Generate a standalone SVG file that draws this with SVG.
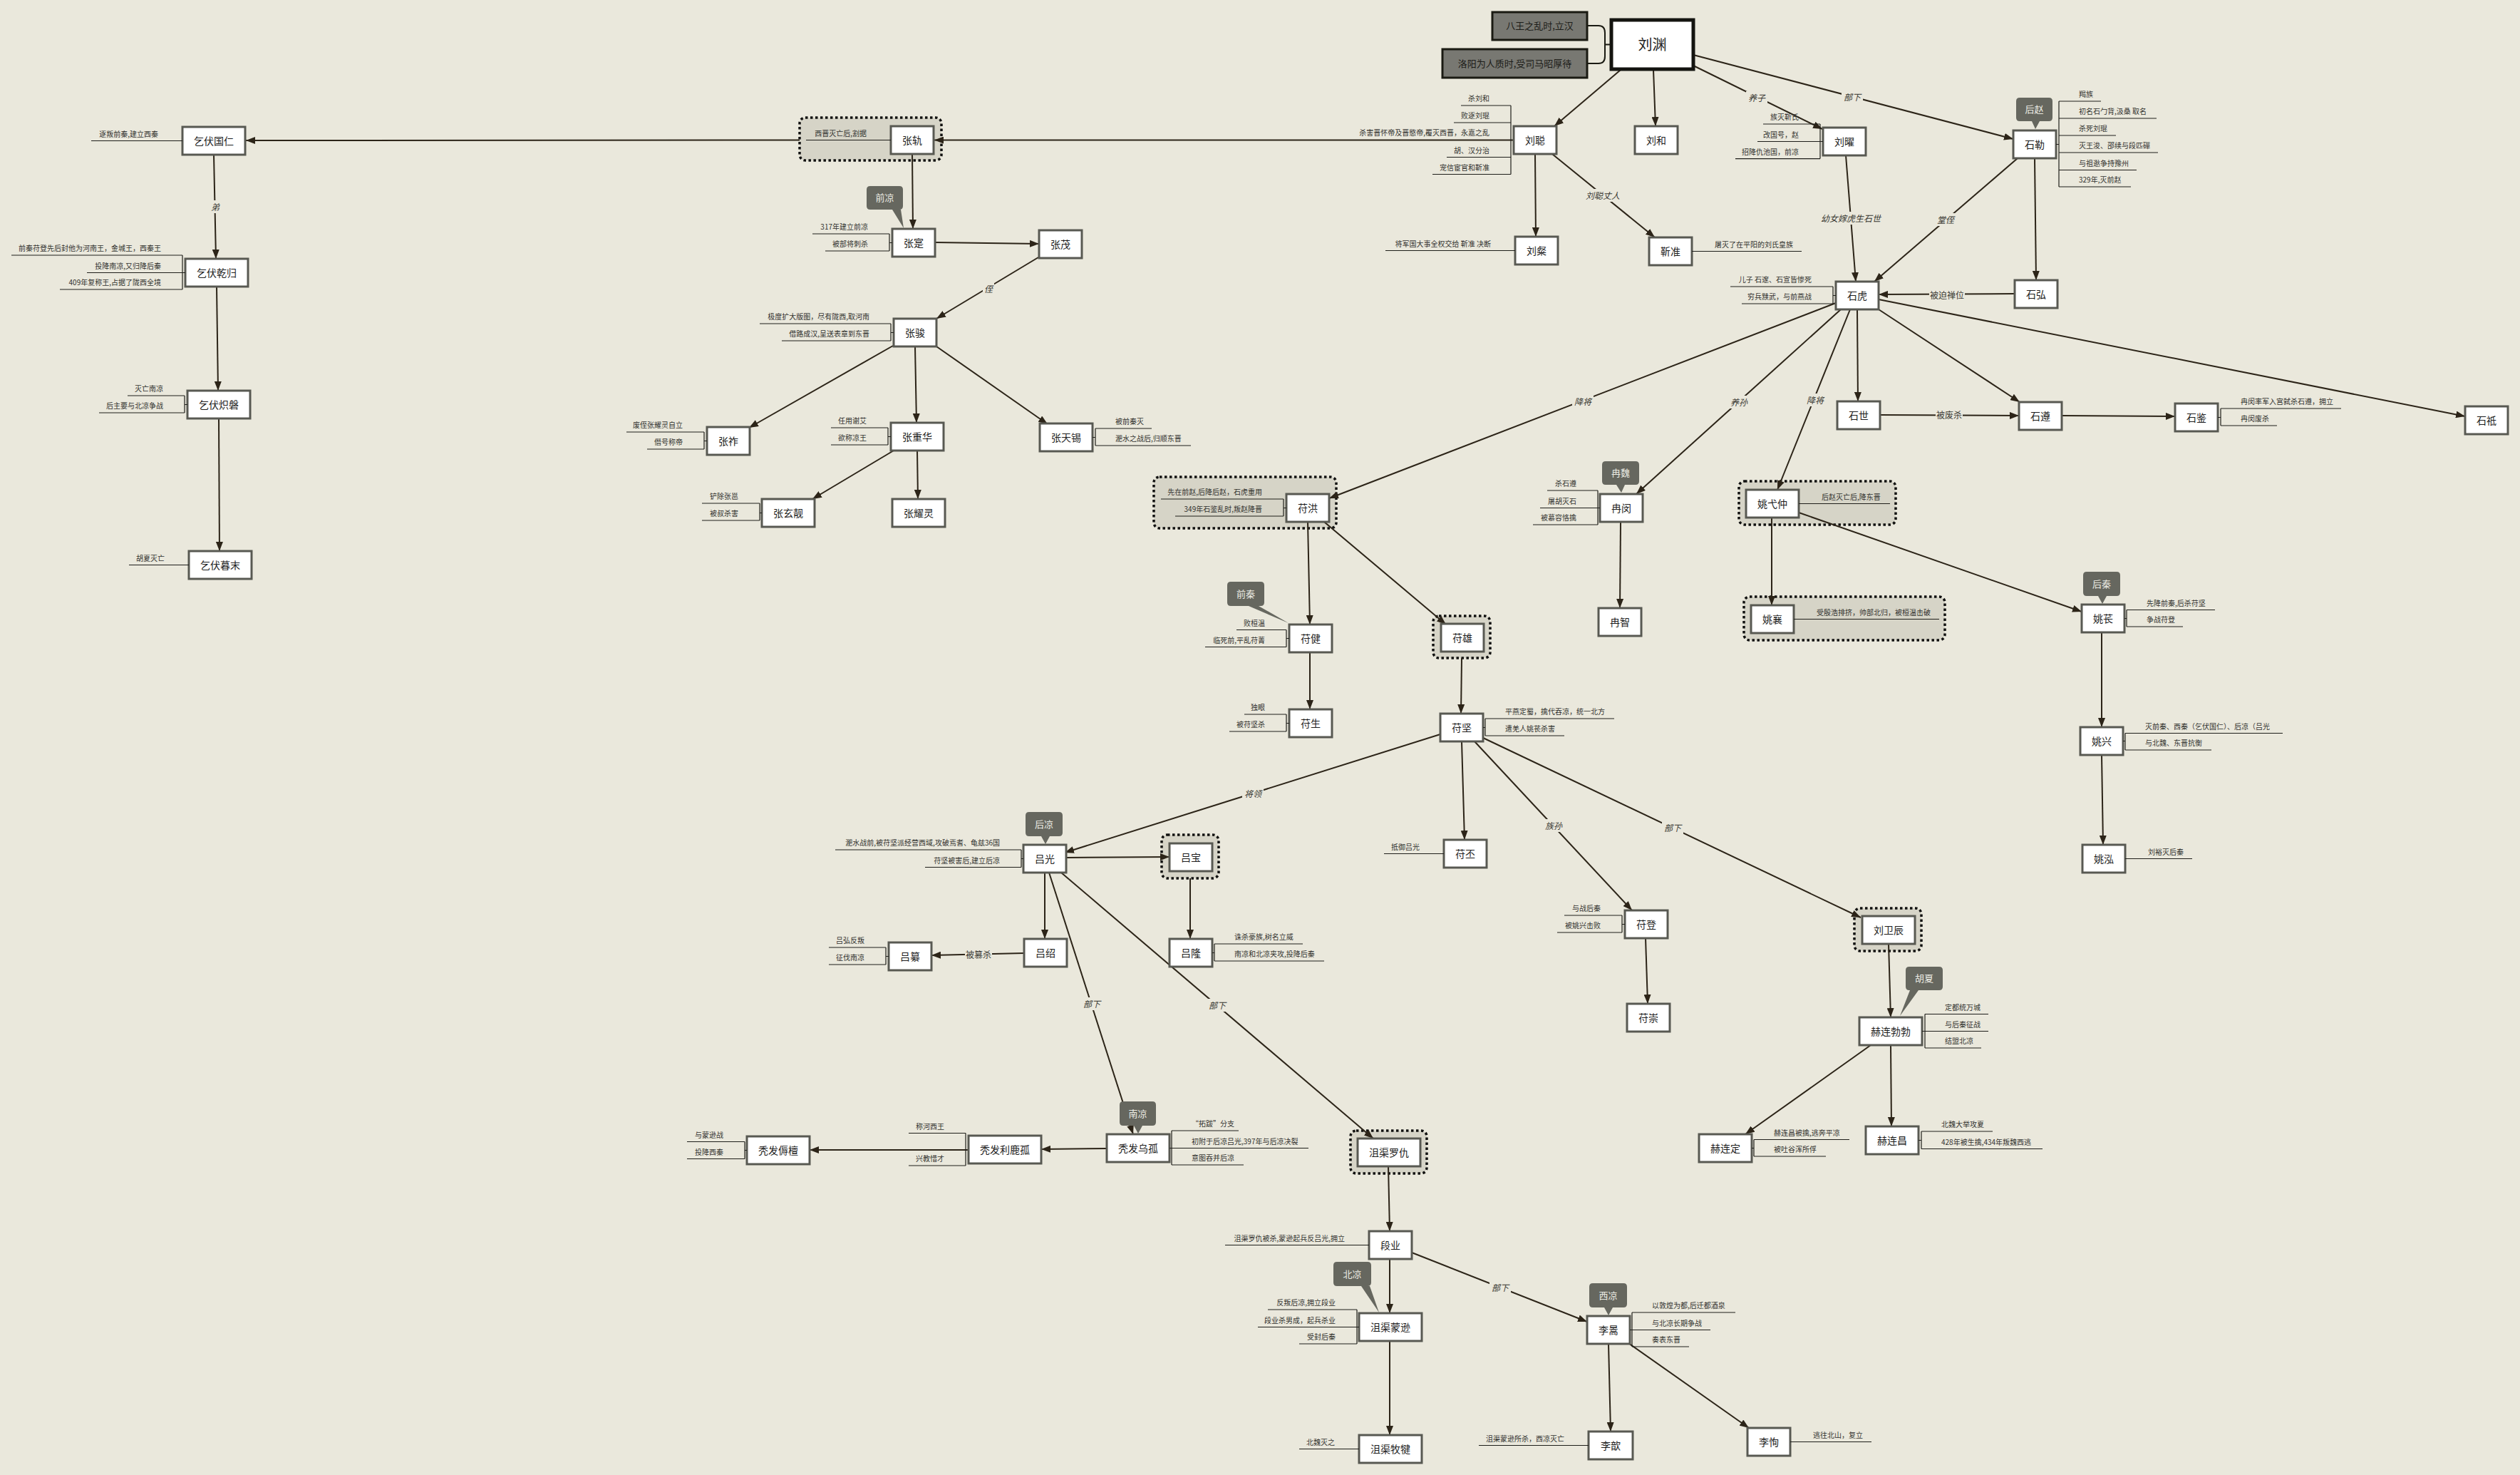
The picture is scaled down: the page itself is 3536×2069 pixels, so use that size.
<svg xmlns="http://www.w3.org/2000/svg" width="3536" height="2069" viewBox="0 0 3536 2069">
<defs>
<style>
.nd{fill:#ffffff;stroke:#585952;stroke-width:3}
.nt{font-family:"Noto Sans CJK SC","Noto Sans",sans-serif;font-size:14px;fill:#1e1e1e;text-anchor:middle}
.no{font-family:"Noto Sans CJK SC","Noto Sans",sans-serif;font-size:10px;fill:#333330}
.ne{text-anchor:end}
.nl{stroke:#1e1e1a;stroke-width:1.2;fill:none}
.ed{stroke:#2c2418;stroke-width:2;fill:none;marker-end:url(#ah)}
.lb{font-family:"Noto Sans CJK SC","Noto Sans",sans-serif;font-size:12px;fill:#3a3a34;text-anchor:middle;font-style:italic}
.lu{font-style:normal}
.lbg{fill:#eae8dc}
.grp{fill:#d6d4c7;stroke:#111110;stroke-width:3.5;stroke-dasharray:3.5 3.5}
.co{fill:#66675f}
.cot{font-family:"Noto Sans CJK SC","Noto Sans",sans-serif;font-size:13px;fill:#ececE4;text-anchor:middle}
.dk{fill:#787872;stroke:#1a1a12;stroke-width:3}
.dkt{font-family:"Noto Sans CJK SC","Noto Sans",sans-serif;font-size:13px;fill:#1c1c18;text-anchor:middle}
</style>
<marker id="ah" markerUnits="userSpaceOnUse" markerWidth="14" markerHeight="10" refX="13" refY="5" orient="auto"><path d="M0,0 L13,5 L0,10 z" fill="#2c2418"/></marker>
</defs>
<rect x="0" y="0" width="3536" height="2069" fill="#eae8dc"/>

<!-- groups (dotted frames) -->
<g id="frames">
<rect class="grp" x="1122" y="165" width="199" height="60" rx="8"/>
<rect class="grp" x="1619" y="669" width="256" height="72" rx="8"/>
<rect class="grp" x="2011" y="864" width="80" height="59" rx="8"/>
<rect class="grp" x="1630" y="1171" width="80" height="61" rx="8"/>
<rect class="grp" x="1895" y="1586" width="107" height="60" rx="8"/>
<rect class="grp" x="2602" y="1274" width="94" height="60" rx="8"/>
<rect class="grp" x="2440" y="675" width="220" height="61" rx="8"/>
<rect class="grp" x="2447" y="837" width="282" height="61" rx="8"/>
</g>

<!-- connectors -->
<g id="connectors">
<path class="ed" d="M2274,98 L2181,177"/>
<path class="ed" d="M2320,98 L2323,177"/>
<path class="ed" d="M2376,92 L2557,181"/>
<path class="ed" d="M2376,77 L2825,195"/>
<path class="ed" d="M2154,216 L2155,332"/>
<path class="ed" d="M2178,216 L2322,333"/>
<path class="ed" d="M2124,196.5 L1311,196.5"/>
<path class="ed" d="M1122,196.5 L345,197"/>
<path class="ed" d="M1280,216 L1281,321"/>
<path class="ed" d="M1312,340 L1458,342"/>
<path class="ed" d="M1457,361 L1314,447"/>
<path class="ed" d="M1253,485 L1051,600"/>
<path class="ed" d="M1284,486 L1286,593"/>
<path class="ed" d="M1314,486 L1470,595"/>
<path class="ed" d="M1254,632 L1140,700"/>
<path class="ed" d="M1287,632 L1288,700"/>
<path class="ed" d="M300,217 L303,363"/>
<path class="ed" d="M304,402 L306,548"/>
<path class="ed" d="M307,587 L308,773"/>
<path class="ed" d="M2590,218 L2604,395"/>
<path class="ed" d="M2831,222 L2630,395"/>
<path class="ed" d="M2855,222 L2857,393"/>
<path class="ed" d="M2827,412 L2636,413"/>
<path class="ed" d="M2606,434 L2607,563"/>
<path class="ed" d="M2638,582 L2833,583"/>
<path class="ed" d="M2636,434 L2834,564"/>
<path class="ed" d="M2893,583 L3052,584"/>
<path class="ed" d="M2636,420 L3459,584"/>
<path class="ed" d="M2576,425 L1865,699"/>
<path class="ed" d="M2583,434 L2296,693"/>
<path class="ed" d="M2596,434 L2494,687"/>
<path class="ed" d="M1835,732 L1838,876"/>
<path class="ed" d="M1858,732 L2029,876"/>
<path class="ed" d="M2274,732 L2273,853"/>
<path class="ed" d="M1838,915 L1838,995"/>
<path class="ed" d="M2051,923 L2050,1001"/>
<path class="ed" d="M2021,1030 L1494,1196"/>
<path class="ed" d="M2051,1040 L2055,1178"/>
<path class="ed" d="M2069,1040 L2290,1277"/>
<path class="ed" d="M2081,1035 L2611,1287"/>
<path class="ed" d="M2309,1316 L2312,1408"/>
<path class="ed" d="M2650,1324 L2653,1427"/>
<path class="ed" d="M2625,1466 L2449,1591"/>
<path class="ed" d="M2653,1466 L2654,1580"/>
<path class="ed" d="M2486,726 L2486,849"/>
<path class="ed" d="M2524,719 L2921,858"/>
<path class="ed" d="M2949,887 L2949,1020"/>
<path class="ed" d="M2949,1059 L2951,1185"/>
<path class="ed" d="M1496,1203 L1641,1202"/>
<path class="ed" d="M1670,1232 L1670,1317"/>
<path class="ed" d="M1466,1224 L1466,1317"/>
<path class="ed" d="M1437,1337 L1307,1340"/>
<path class="ed" d="M1472,1224 L1590,1591"/>
<path class="ed" d="M1489,1224 L1927,1597"/>
<path class="ed" d="M1553,1611 L1461,1612"/>
<path class="ed" d="M1359,1613 L1136,1613"/>
<path class="ed" d="M1948,1636 L1950,1727"/>
<path class="ed" d="M1950,1766 L1950,1842"/>
<path class="ed" d="M1981,1757 L2227,1854"/>
<path class="ed" d="M1950,1881 L1950,2013"/>
<path class="ed" d="M2257,1885 L2260,2008"/>
<path class="ed" d="M2285,1884 L2454,2003"/>
<!-- labels -->
<rect class="lbg" x="2450" y="128" width="30" height="18"/><text class="lb" x="2465" y="141.5">养子</text>
<rect class="lbg" x="2584" y="127" width="30" height="18"/><text class="lb" x="2599" y="140.5">部下</text>
<rect class="lbg" x="2224" y="265" width="50" height="18"/><text class="lb" x="2249" y="278.5">刘聪丈人</text>
<rect class="lbg" x="294" y="281" width="16" height="18"/><text class="lb" x="302" y="294.5">弟</text>
<rect class="lbg" x="1379" y="396" width="16" height="18"/><text class="lb" x="1387" y="409.5">侄</text>
<rect class="lbg" x="2554" y="297" width="86" height="18"/><text class="lb" x="2597" y="310.5">幼女嫁虎生石世</text>
<rect class="lbg" x="2715" y="299" width="30" height="18"/><text class="lb" x="2730" y="312.5">堂侄</text>
<rect class="lbg" x="2707" y="405" width="50" height="18"/><text class="lb lu" x="2732" y="418.5">被迫禅位</text>
<rect class="lbg" x="2716" y="573" width="38" height="18"/><text class="lb lu" x="2735" y="586.5">被废杀</text>
<rect class="lbg" x="2206" y="554" width="30" height="18"/><text class="lb" x="2221" y="567.5">降将</text>
<rect class="lbg" x="2425" y="555" width="30" height="18"/><text class="lb" x="2440" y="568.5">养孙</text>
<rect class="lbg" x="2532" y="552" width="30" height="18"/><text class="lb" x="2547" y="565.5">降将</text>
<rect class="lbg" x="1743" y="1104" width="30" height="18"/><text class="lb" x="1758" y="1117.5">将领</text>
<rect class="lbg" x="2165" y="1149" width="30" height="18"/><text class="lb" x="2180" y="1162.5">族孙</text>
<rect class="lbg" x="2332" y="1152" width="30" height="18"/><text class="lb" x="2347" y="1165.5">部下</text>
<rect class="lbg" x="1354" y="1330" width="38" height="18"/><text class="lb lu" x="1373" y="1343.5">被篡杀</text>
<rect class="lbg" x="1517" y="1399" width="30" height="18"/><text class="lb" x="1532" y="1412.5">部下</text>
<rect class="lbg" x="1693" y="1401" width="30" height="18"/><text class="lb" x="1708" y="1414.5">部下</text>
<rect class="lbg" x="2090" y="1797" width="30" height="18"/><text class="lb" x="2105" y="1810.5">部下</text>
</g>

<!-- 刘渊 -->
<g id="liuyuan">
<rect x="2261" y="28" width="115" height="69" fill="#ffffff" stroke="#141410" stroke-width="5"/>
<text class="nt" x="2318.5" y="70" style="font-size:20px">刘渊</text>
<rect class="dk" x="2094" y="17" width="133" height="39"/>
<text class="dkt" x="2160.5" y="41">八王之乱时,立汉</text>
<rect class="dk" x="2024" y="69" width="203" height="40"/>
<text class="dkt" x="2125.5" y="94">洛阳为人质时,受司马昭厚待</text>
<path d="M2228,36 H2243 Q2252,36 2252,46 V79 Q2252,89 2243,89 H2228 M2252,62.5 H2260" fill="none" stroke="#1a1a12" stroke-width="2"/>
</g>

<g id="liucong">
<rect class="nd" x="2124" y="177" width="60" height="39"/><text class="nt" x="2154" y="201.5">刘聪</text>
<path class="nl" d="M2050,148 H2120 M2040,172 H2120 M2030,220.5 H2120 M2010,244.5 H2120 M2120,148 V244.5"/>
<text class="no ne" x="2090" y="142">杀刘和</text>
<text class="no ne" x="2090" y="166">败逐刘琨</text>
<text class="no ne" x="2090" y="190">杀害晋怀帝及晋愍帝,覆灭西晋，永嘉之乱</text>
<text class="no ne" x="2090" y="214.5">胡、汉分治</text>
<text class="no ne" x="2090" y="238.5">宠信宦官和靳准</text>
</g>
<g id="liuhe"><rect class="nd" x="2294" y="177" width="60" height="39"/><text class="nt" x="2324" y="201.5">刘和</text></g>
<g id="liuyao">
<rect class="nd" x="2558" y="179" width="60" height="39"/><text class="nt" x="2588" y="203.5">刘曜</text>
<path class="nl" d="M2474,174 H2554 M2466,198.5 H2558 M2435,222.6 H2554 M2554,174 V222.6"/>
<text class="no ne" x="2524" y="168">族灭靳氏</text>
<text class="no ne" x="2524" y="192.5">改国号，赵</text>
<text class="no ne" x="2524" y="216.6">招降仇池国，前凉</text>
</g>
<g id="shile">
<rect class="nd" x="2825" y="183" width="60" height="39"/><text class="nt" x="2855" y="207.5">石勒</text>
<path class="nl" d="M2889,142 H2948 M2889,166 H3026 M2889,190 H2969 M2889,214 H3028 M2889,238.5 H2998 M2889,262 H2990 M2889,142 V262 M2885,202.5 H2889"/>
<text class="no" x="2917" y="136">羯族</text>
<text class="no" x="2917" y="160">初名石勹背,汲桑 取名</text>
<text class="no" x="2917" y="184">杀死刘琨</text>
<text class="no" x="2917" y="208">灭王浚、邵续与段匹磾</text>
<text class="no" x="2917" y="232.5">与祖逖争持豫州</text>
<text class="no" x="2917" y="256">329年,灭前赵</text>
<path class="co" d="M2834,137 H2875 Q2880,137 2880,142 V165 Q2880,170 2875,170 H2862 L2856,181 L2851,170 H2834 Q2829,170 2829,165 V142 Q2829,137 2834,137 Z"/>
<text class="cot" x="2854.5" y="158">后赵</text>
</g>
<g id="liucan">
<rect class="nd" x="2126" y="332" width="60" height="39"/><text class="nt" x="2156" y="356.5">刘粲</text>
<path class="nl" d="M1944,351.5 H2126"/>
<text class="no ne" x="2092" y="345.5">将军国大事全权交给 靳准 决断</text>
</g>
<g id="jinzhun">
<rect class="nd" x="2314" y="333" width="60" height="39"/><text class="nt" x="2344" y="357.5">靳准</text>
<path class="nl" d="M2374,352.5 H2528"/>
<text class="no" x="2406" y="346.5">屠灭了在平阳的刘氏皇族</text>
</g>
<g id="shihu">
<rect class="nd" x="2576" y="395" width="60" height="39"/><text class="nt" x="2606" y="419.5">石虎</text>
<path class="nl" d="M2428,402 H2572 M2444,426 H2572 M2572,402 V426 M2572,414.5 H2576"/>
<text class="no ne" x="2542" y="396">儿子 石邃、石宣皆惨死</text>
<text class="no ne" x="2542" y="420">穷兵黩武，与前燕战</text>
</g>
<g id="shihong"><rect class="nd" x="2827" y="393" width="60" height="39"/><text class="nt" x="2857" y="417.5">石弘</text></g>
<g id="shishi"><rect class="nd" x="2578" y="563" width="60" height="39"/><text class="nt" x="2608" y="587.5">石世</text></g>
<g id="shizun"><rect class="nd" x="2833" y="564" width="60" height="39"/><text class="nt" x="2863" y="588.5">石遵</text></g>
<g id="shijian">
<rect class="nd" x="3052" y="566" width="60" height="39"/><text class="nt" x="3082" y="590.5">石鉴</text>
<path class="nl" d="M3116,573 H3285 M3116,597 H3195 M3116,573 V597 M3112,585.5 H3116"/>
<text class="no" x="3144" y="567">冉闵率军入宫弑杀石遵，拥立</text>
<text class="no" x="3144" y="591">冉闵废杀</text>
</g>
<g id="shizhi"><rect class="nd" x="3459" y="570" width="60" height="39"/><text class="nt" x="3489" y="594.5">石祗</text></g>

<g id="zhanggui">
<rect class="nd" x="1250" y="177" width="60" height="39"/><text class="nt" x="1280" y="201.5">张轨</text>
<path class="nl" d="M1131,196.5 H1250"/>
<text class="no ne" x="1216" y="190.5">西晋灭亡后,割据</text>
</g>
<g id="zhangshi">
<rect class="nd" x="1252" y="321" width="60" height="39"/><text class="nt" x="1282" y="345.5">张寔</text>
<path class="nl" d="M1140,328 H1248 M1158,352 H1248 M1248,328 V352 M1248,340.5 H1252"/>
<text class="no ne" x="1218" y="322">317年建立前凉</text>
<text class="no ne" x="1218" y="346">被部将刺杀</text>
<path class="co" d="M1221,261 H1262 Q1267,261 1267,266 V289 Q1267,294 1262,294 H1264 L1268,320 L1252,294 H1221 Q1216,294 1216,289 V266 Q1216,261 1221,261 Z"/>
<text class="cot" x="1241.5" y="282">前凉</text>
</g>
<g id="zhangmao"><rect class="nd" x="1458" y="323" width="60" height="39"/><text class="nt" x="1488" y="347.5">张茂</text></g>
<g id="zhangjun">
<rect class="nd" x="1254" y="447" width="60" height="39"/><text class="nt" x="1284" y="471.5">张骏</text>
<path class="nl" d="M1066,454 H1250 M1097,478 H1250 M1250,454 V478 M1250,466.5 H1254"/>
<text class="no ne" x="1220" y="448">极度扩大版图，尽有陇西,取河南</text>
<text class="no ne" x="1220" y="472">借路成汉,呈送表章到东晋</text>
</g>
<g id="zhangzuo">
<rect class="nd" x="992" y="599" width="60" height="39"/><text class="nt" x="1022" y="623.5">张祚</text>
<path class="nl" d="M879,606 H988 M908,630 H988 M988,606 V630 M988,618.5 H992"/>
<text class="no ne" x="958" y="600">废侄张耀灵自立</text>
<text class="no ne" x="958" y="624">僭号称帝</text>
</g>
<g id="zhangchonghua">
<rect class="nd" x="1250" y="593" width="74" height="39"/><text class="nt" x="1287" y="617.5">张重华</text>
<path class="nl" d="M1166,600 H1246 M1166,624 H1246 M1246,600 V624 M1246,612.5 H1250"/>
<text class="no ne" x="1216" y="594">任用谢艾</text>
<text class="no ne" x="1216" y="618">欲称凉王</text>
</g>
<g id="zhangtianxi">
<rect class="nd" x="1459" y="594" width="74" height="39"/><text class="nt" x="1496" y="618.5">张天锡</text>
<path class="nl" d="M1537,601 H1616 M1537,625 H1671 M1537,601 V625 M1533,613.5 H1537"/>
<text class="no" x="1565" y="595">被前秦灭</text>
<text class="no" x="1565" y="619">淝水之战后,归顺东晋</text>
</g>
<g id="zhangxuanjing">
<rect class="nd" x="1069" y="700" width="74" height="39"/><text class="nt" x="1106" y="724.5">张玄靓</text>
<path class="nl" d="M985,706 H1066 M985,730 H1066 M1066,706 V730 M1066,719.5 H1069"/>
<text class="no ne" x="1036" y="700">铲除张邕</text>
<text class="no ne" x="1036" y="724">被叔杀害</text>
</g>
<g id="zhangyaoling"><rect class="nd" x="1252" y="700" width="74" height="39"/><text class="nt" x="1289" y="724.5">张耀灵</text></g>

<g id="qifuguoren">
<rect class="nd" x="256" y="178" width="88" height="39"/><text class="nt" x="300" y="202.5">乞伏国仁</text>
<path class="nl" d="M128,197.5 H256"/>
<text class="no ne" x="222" y="191.5">逐叛前秦,建立西秦</text>
</g>
<g id="qifuqiangui">
<rect class="nd" x="260" y="363" width="88" height="39"/><text class="nt" x="304" y="387.5">乞伏乾归</text>
<path class="nl" d="M16,358 H256 M122,382.5 H260 M84,406 H256 M256,358 V406"/>
<text class="no ne" x="226" y="352">前秦苻登先后封他为河南王，金城王，西秦王</text>
<text class="no ne" x="226" y="376.5">投降南凉,又归降后秦</text>
<text class="no ne" x="226" y="400">409年复称王,占据了陇西全境</text>
</g>
<g id="qifuchipan">
<rect class="nd" x="263" y="548" width="88" height="39"/><text class="nt" x="307" y="572.5">乞伏炽磐</text>
<path class="nl" d="M179,555 H259 M139,579 H259 M259,555 V579 M259,567.5 H263"/>
<text class="no ne" x="229" y="549">灭亡南凉</text>
<text class="no ne" x="229" y="573">后主要与北凉争战</text>
</g>
<g id="qifumumo">
<rect class="nd" x="265" y="773" width="88" height="39"/><text class="nt" x="309" y="797.5">乞伏暮末</text>
<path class="nl" d="M181,792.5 H265"/>
<text class="no ne" x="231" y="786.5">胡夏灭亡</text>
</g>

<g id="fuhong">
<rect class="nd" x="1805" y="693" width="60" height="39"/><text class="nt" x="1835" y="717.5">苻洪</text>
<path class="nl" d="M1629,700 H1801 M1649,724 H1801 M1801,700 V724 M1801,712.5 H1805"/>
<text class="no ne" x="1771" y="694">先在前赵,后降后赵，石虎重用</text>
<text class="no ne" x="1771" y="718">349年石鉴乱时,叛赵降晋</text>
</g>
<g id="ranmin">
<rect class="nd" x="2245" y="693" width="60" height="39"/><text class="nt" x="2275" y="717.5">冉闵</text>
<path class="nl" d="M2171,688 H2242 M2161,712.5 H2245 M2151,736 H2242 M2242,688 V736"/>
<text class="no ne" x="2212" y="682">杀石遵</text>
<text class="no ne" x="2212" y="706.5">屠胡灭石</text>
<text class="no ne" x="2212" y="730">被慕容恪擒</text>
<path class="co" d="M2253,647 H2295 Q2300,647 2300,652 V675 Q2300,680 2295,680 H2280 L2275,691 L2268,680 H2253 Q2248,680 2248,675 V652 Q2248,647 2253,647 Z"/>
<text class="cot" x="2274" y="668">冉魏</text>
</g>
<g id="ranzhi"><rect class="nd" x="2243" y="853" width="60" height="39"/><text class="nt" x="2273" y="877.5">冉智</text></g>
<g id="fujian">
<rect class="nd" x="1809" y="876" width="60" height="39"/><text class="nt" x="1839" y="900.5">苻健</text>
<path class="nl" d="M1735,883.5 H1805 M1691,907.5 H1805 M1805,883.5 V907.5 M1805,895.5 H1809"/>
<text class="no ne" x="1775" y="877.5">败桓温</text>
<text class="no ne" x="1775" y="901.5">临死前,平乱苻菁</text>
<path class="co" d="M1727,816 H1769 Q1774,816 1774,821 V845 Q1774,850 1769,850 H1766 L1808,874 L1752,850 H1727 Q1722,850 1722,845 V821 Q1722,816 1727,816 Z"/>
<text class="cot" x="1748" y="837.5">前秦</text>
</g>
<g id="fuxiong"><rect class="nd" x="2022" y="875" width="60" height="39"/><text class="nt" x="2052" y="899.5">苻雄</text></g>
<g id="fusheng">
<rect class="nd" x="1809" y="995" width="60" height="39"/><text class="nt" x="1839" y="1019.5">苻生</text>
<path class="nl" d="M1746,1002 H1805 M1725,1026 H1805 M1805,1002 V1026 M1805,1014.5 H1809"/>
<text class="no ne" x="1775" y="996">独眼</text>
<text class="no ne" x="1775" y="1020">被苻坚杀</text>
</g>
<g id="fujian2">
<rect class="nd" x="2021" y="1001" width="60" height="39"/><text class="nt" x="2051" y="1025.5">苻坚</text>
<path class="nl" d="M2084,1008 H2265 M2084,1032 H2195 M2084,1008 V1032 M2081,1020.5 H2084"/>
<text class="no" x="2112" y="1002">平燕定蜀，擒代吞凉，统一北方</text>
<text class="no" x="2112" y="1026">遭羌人姚苌杀害</text>
</g>
<g id="fupi">
<rect class="nd" x="2026" y="1178" width="60" height="39"/><text class="nt" x="2056" y="1202.5">苻丕</text>
<path class="nl" d="M1942,1197.5 H2026"/>
<text class="no ne" x="1992" y="1191.5">抵御吕光</text>
</g>
<g id="fudeng">
<rect class="nd" x="2280" y="1277" width="60" height="39"/><text class="nt" x="2310" y="1301.5">苻登</text>
<path class="nl" d="M2195,1284 H2276 M2185,1308 H2276 M2276,1284 V1308 M2276,1296.5 H2280"/>
<text class="no ne" x="2246" y="1278">与战后秦</text>
<text class="no ne" x="2246" y="1302">被姚兴击败</text>
</g>
<g id="fuchong"><rect class="nd" x="2283" y="1408" width="60" height="39"/><text class="nt" x="2313" y="1432.5">苻崇</text></g>
<g id="liuweichen"><rect class="nd" x="2613" y="1285" width="74" height="39"/><text class="nt" x="2650" y="1309.5">刘卫辰</text></g>
<g id="helianbobo">
<rect class="nd" x="2609" y="1427" width="88" height="39"/><text class="nt" x="2653" y="1451.5">赫连勃勃</text>
<path class="nl" d="M2701,1422.5 H2790 M2697,1446.5 H2790 M2701,1470 H2780 M2701,1422.5 V1470"/>
<text class="no" x="2729" y="1416.5">定都统万城</text>
<text class="no" x="2729" y="1440.5">与后秦征战</text>
<text class="no" x="2729" y="1464">结盟北凉</text>
<path class="co" d="M2679,1356 H2721 Q2726,1356 2726,1361 V1384 Q2726,1389 2721,1389 H2692 L2666,1425 L2680,1389 H2679 Q2674,1389 2674,1384 V1361 Q2674,1356 2679,1356 Z"/>
<text class="cot" x="2700" y="1377">胡夏</text>
</g>
<g id="helianding">
<rect class="nd" x="2384" y="1591" width="74" height="39"/><text class="nt" x="2421" y="1615.5">赫连定</text>
<path class="nl" d="M2461,1598.5 H2595 M2461,1622 H2562 M2461,1598.5 V1622 M2458,1610.5 H2461"/>
<text class="no" x="2489" y="1592.5">赫连昌被擒,逃奔平凉</text>
<text class="no" x="2489" y="1616">被吐谷浑所俘</text>
</g>
<g id="helianchang">
<rect class="nd" x="2618" y="1580" width="74" height="39"/><text class="nt" x="2655" y="1604.5">赫连昌</text>
<path class="nl" d="M2696,1587 H2796 M2696,1611.5 H2866 M2696,1587 V1611.5 M2692,1599.5 H2696"/>
<text class="no" x="2724" y="1581">北魏大举攻夏</text>
<text class="no" x="2724" y="1605.5">428年被生擒,434年叛魏西逃</text>
</g>

<g id="yaoyizhong">
<rect class="nd" x="2450" y="687" width="74" height="39"/><text class="nt" x="2487" y="711.5">姚弋仲</text>
<path class="nl" d="M2524,706.5 H2652"/>
<text class="no" x="2556" y="700.5">后赵灭亡后,降东晋</text>
</g>
<g id="yaoxiang">
<rect class="nd" x="2457" y="849" width="60" height="39"/><text class="nt" x="2487" y="873.5">姚襄</text>
<path class="nl" d="M2517,868.5 H2721"/>
<text class="no" x="2549" y="862.5">受殷浩排挤，帅部北归，被桓温击破</text>
</g>
<g id="yaochang">
<rect class="nd" x="2921" y="848" width="60" height="39"/><text class="nt" x="2951" y="872.5">姚苌</text>
<path class="nl" d="M2984,855.5 H3108 M2984,879 H3063 M2984,855.5 V879 M2981,867.5 H2984"/>
<text class="no" x="3012" y="849.5">先降前秦,后杀苻坚</text>
<text class="no" x="3012" y="873">争战苻登</text>
<path class="co" d="M2928,802 H2970 Q2975,802 2975,807 V831 Q2975,836 2970,836 H2956 L2950,847 L2944,836 H2928 Q2923,836 2923,831 V807 Q2923,802 2928,802 Z"/>
<text class="cot" x="2949" y="823.5">后秦</text>
</g>
<g id="yaoxing">
<rect class="nd" x="2919" y="1020" width="60" height="39"/><text class="nt" x="2949" y="1044.5">姚兴</text>
<path class="nl" d="M2982,1028.5 H3203 M2982,1052 H3103 M2982,1028.5 V1052 M2979,1039.5 H2982"/>
<text class="no" x="3010" y="1022.5">灭前秦、西秦（乞伏国仁）、后凉（吕光</text>
<text class="no" x="3010" y="1046">与北魏、东晋抗衡</text>
</g>
<g id="yaohong">
<rect class="nd" x="2922" y="1185" width="60" height="39"/><text class="nt" x="2952" y="1209.5">姚泓</text>
<path class="nl" d="M2982,1204.5 H3076"/>
<text class="no" x="3014" y="1198.5">刘裕灭后秦</text>
</g>

<g id="lvguang">
<rect class="nd" x="1436" y="1185" width="60" height="39"/><text class="nt" x="1466" y="1209.5">吕光</text>
<path class="nl" d="M1172,1192 H1433 M1298,1216.5 H1433 M1433,1192 V1216.5 M1433,1204.5 H1436"/>
<text class="no ne" x="1403" y="1186">淝水战前,被苻坚派经营西域,攻破焉耆、龟兹36国</text>
<text class="no ne" x="1403" y="1210.5">苻坚被害后,建立后凉</text>
<path class="co" d="M1444,1139 H1486 Q1491,1139 1491,1144 V1168 Q1491,1173 1486,1173 H1473 L1467,1184 L1461,1173 H1444 Q1439,1173 1439,1168 V1144 Q1439,1139 1444,1139 Z"/>
<text class="cot" x="1465" y="1160.5">后凉</text>
</g>
<g id="lvbao"><rect class="nd" x="1641" y="1183" width="60" height="39"/><text class="nt" x="1671" y="1207.5">吕宝</text></g>
<g id="lvlong">
<rect class="nd" x="1641" y="1317" width="60" height="39"/><text class="nt" x="1671" y="1341.5">吕隆</text>
<path class="nl" d="M1704,1324 H1828 M1704,1348 H1858 M1704,1324 V1348 M1701,1336.5 H1704"/>
<text class="no" x="1732" y="1318">诛杀豪族,树名立威</text>
<text class="no" x="1732" y="1342">南凉和北凉夹攻,投降后秦</text>
</g>
<g id="lvshao"><rect class="nd" x="1437" y="1317" width="60" height="39"/><text class="nt" x="1467" y="1341.5">吕绍</text></g>
<g id="lvzuan">
<rect class="nd" x="1247" y="1322" width="60" height="39"/><text class="nt" x="1277" y="1346.5">吕纂</text>
<path class="nl" d="M1163,1329 H1243 M1163,1353 H1243 M1243,1329 V1353 M1243,1341.5 H1247"/>
<text class="no ne" x="1213" y="1323">吕弘反叛</text>
<text class="no ne" x="1213" y="1347">征伐南凉</text>
</g>
<g id="tufawugu">
<rect class="nd" x="1553" y="1591" width="88" height="39"/><text class="nt" x="1597" y="1615.5">秃发乌孤</text>
<path class="nl" d="M1644,1586 H1738 M1641,1610.5 H1836 M1644,1634 H1745 M1644,1586 V1634"/>
<text class="no" x="1672" y="1580">“拓跋”分支</text>
<text class="no" x="1672" y="1604.5">初附于后凉吕光,397年与后凉决裂</text>
<text class="no" x="1672" y="1628">意图吞并后凉</text>
<path class="co" d="M1576,1545 H1617 Q1622,1545 1622,1550 V1574 Q1622,1579 1617,1579 H1603 L1597,1590 L1591,1579 H1576 Q1571,1579 1571,1574 V1550 Q1571,1545 1576,1545 Z"/>
<text class="cot" x="1596.5" y="1566.5">南凉</text>
</g>
<g id="tufaliluhu">
<rect class="nd" x="1359" y="1593" width="102" height="39"/><text class="nt" x="1410" y="1617.5">秃发利鹿孤</text>
<path class="nl" d="M1275,1589.5 H1355 M1275,1635 H1355 M1355,1589.5 V1635"/>
<text class="no ne" x="1325" y="1583.5">称河西王</text>
<text class="no ne" x="1325" y="1629">兴教惜才</text>
</g>
<g id="tufarutan">
<rect class="nd" x="1048" y="1594" width="88" height="39"/><text class="nt" x="1092" y="1618.5">秃发傉檀</text>
<path class="nl" d="M964,1601.5 H1045 M964,1625.5 H1045 M1045,1601.5 V1625.5 M1045,1613.5 H1048"/>
<text class="no ne" x="1015" y="1595.5">与蒙逊战</text>
<text class="no ne" x="1015" y="1619.5">投降西秦</text>
</g>
<g id="juquluochou"><rect class="nd" x="1905" y="1597" width="88" height="39"/><text class="nt" x="1949" y="1621.5">沮渠罗仇</text></g>
<g id="duanye">
<rect class="nd" x="1921" y="1727" width="60" height="39"/><text class="nt" x="1951" y="1751.5">段业</text>
<path class="nl" d="M1719,1746.5 H1921"/>
<text class="no ne" x="1887" y="1740.5">沮渠罗仇被杀,蒙逊起兵反吕光,拥立</text>
</g>
<g id="juqumengxun">
<rect class="nd" x="1907" y="1842" width="88" height="39"/><text class="nt" x="1951" y="1866.5">沮渠蒙逊</text>
<path class="nl" d="M1779,1837 H1904 M1765,1861.5 H1907 M1823,1885 H1904 M1904,1837 V1885"/>
<text class="no ne" x="1874" y="1831">反叛后凉,拥立段业</text>
<text class="no ne" x="1874" y="1855.5">段业杀男成，起兵杀业</text>
<text class="no ne" x="1874" y="1879">受封后秦</text>
<path class="co" d="M1876,1770 H1919 Q1924,1770 1924,1775 V1799 Q1924,1804 1919,1804 H1922 L1935,1841 L1910,1804 H1876 Q1871,1804 1871,1799 V1775 Q1871,1770 1876,1770 Z"/>
<text class="cot" x="1897.5" y="1791.5">北凉</text>
</g>
<g id="juqumujian">
<rect class="nd" x="1907" y="2013" width="88" height="39"/><text class="nt" x="1951" y="2037.5">沮渠牧犍</text>
<path class="nl" d="M1823,2032.5 H1907"/>
<text class="no ne" x="1873" y="2026.5">北魏灭之</text>
</g>
<g id="ligao">
<rect class="nd" x="2227" y="1846" width="60" height="39"/><text class="nt" x="2257" y="1870.5">李暠</text>
<path class="nl" d="M2290,1841 H2435 M2287,1865.5 H2400 M2290,1889 H2370 M2290,1841 V1889"/>
<text class="no" x="2318" y="1835">以敦煌为都,后迁都酒泉</text>
<text class="no" x="2318" y="1859.5">与北凉长期争战</text>
<text class="no" x="2318" y="1883">奏表东晋</text>
<path class="co" d="M2235,1800 H2278 Q2283,1800 2283,1805 V1829 Q2283,1834 2278,1834 H2263 L2257,1845 L2251,1834 H2235 Q2230,1834 2230,1829 V1805 Q2230,1800 2235,1800 Z"/>
<text class="cot" x="2256.5" y="1821.5">西凉</text>
</g>
<g id="lixin">
<rect class="nd" x="2229" y="2008" width="62" height="39"/><text class="nt" x="2260" y="2032.5">李歆</text>
<path class="nl" d="M2075,2027.5 H2229"/>
<text class="no ne" x="2195" y="2021.5">沮渠蒙逊所杀，西凉灭亡</text>
</g>
<g id="lixun">
<rect class="nd" x="2452" y="2003" width="60" height="39"/><text class="nt" x="2482" y="2027.5">李恂</text>
<path class="nl" d="M2512,2022.5 H2626"/>
<text class="no" x="2544" y="2016.5">逃往北山，复立</text>
</g>
</svg>
